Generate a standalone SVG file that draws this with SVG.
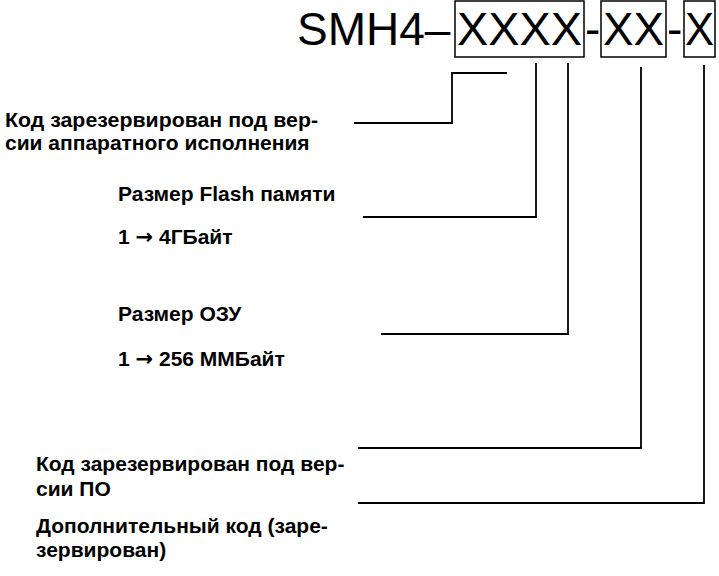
<svg xmlns="http://www.w3.org/2000/svg" width="719" height="576" viewBox="0 0 719 576">
<style>
.t{font-family:"Liberation Sans",Arial,sans-serif;font-weight:bold;font-size:21px;fill:#000}
.a{font-family:"DejaVu Sans",sans-serif;font-weight:bold}
.title{font-family:"Liberation Sans",Arial,sans-serif;font-size:46px;fill:#000}
.box{fill:none;stroke:#000;stroke-width:1.5}
.c{fill:none;stroke:#000;stroke-width:1.8}
</style>
<rect width="719" height="576" fill="#fff"/>
<g id="title">
<text class="title" x="297" y="45">SMH4–</text>
<rect class="box" x="455" y="1" width="129" height="56"/>
<text class="title" x="457" y="45" textLength="125" lengthAdjust="spacingAndGlyphs">XXXX</text>
<text class="title" x="585" y="45">-</text>
<rect class="box" x="601" y="1" width="65" height="56"/>
<text class="title" x="603" y="45" textLength="61" lengthAdjust="spacingAndGlyphs">XX</text>
<text class="title" x="667" y="45">-</text>
<rect class="box" x="684" y="1" width="31" height="56"/>
<text class="title" x="685" y="45" textLength="29" lengthAdjust="spacingAndGlyphs">X</text>
</g>
<g id="connectors">
<polyline class="c" points="354,123 452,123 452,73 507,73"/>
<polyline class="c" points="536,63 536,217 363,217"/>
<polyline class="c" points="568,63 568,334 381,334"/>
<polyline class="c" points="641,67 641,448 358,448"/>
<polyline class="c" points="704,65 704,503 358,503"/>
</g>
<g id="hw">
<text class="t" x="5" y="127" textLength="313" lengthAdjust="spacingAndGlyphs">Код зарезервирован под вер-</text>
<text class="t" x="5" y="150">сии аппаратного исполнения</text>
</g>
<g id="flash">
<text class="t" x="118" y="201">Размер Flash памяти</text>
<text class="t" x="118" y="244">1 <tspan class="a">→</tspan>  4ГБайт</text>
</g>
<g id="ram">
<text class="t" x="118" y="321">Размер ОЗУ</text>
<text class="t" x="118" y="366">1 <tspan class="a">→</tspan> 256 ММБайт</text>
</g>
<g id="sw">
<text class="t" x="36" y="471">Код зарезервирован под вер-</text>
<text class="t" x="36" y="496">сии ПО</text>
</g>
<g id="extra">
<text class="t" x="36" y="533">Дополнительный код (заре-</text>
<text class="t" x="36" y="557">зервирован)</text>
</g>
</svg>
